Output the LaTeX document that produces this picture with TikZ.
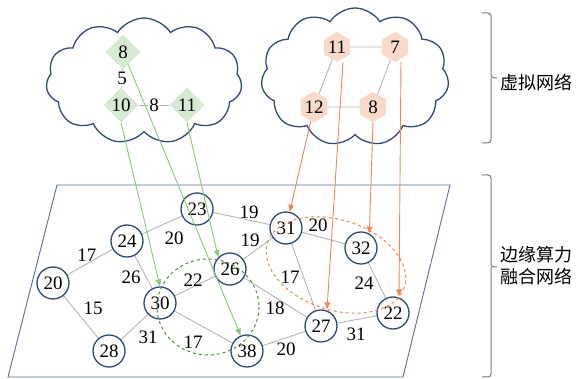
\documentclass[tikz,border=0pt]{standalone}
\usepackage{fontspec}
\setmainfont{Liberation Serif}
\newfontfamily\cjk{Noto Sans CJK SC}
\usetikzlibrary{shapes.geometric,shapes.symbols,arrows.meta}
\definecolor{navy}{HTML}{2F4A78}
\definecolor{edgegray}{HTML}{B4B4B4}
\definecolor{leafgreen}{HTML}{D6E9D1}
\definecolor{peach}{HTML}{F9DACA}
\definecolor{arrgreen}{HTML}{8DC67A}
\definecolor{dashgreen}{HTML}{4E8C3E}
\definecolor{arrorange}{HTML}{F2874C}
\definecolor{bracegray}{HTML}{7A7A7A}
\begin{document}
\begin{tikzpicture}[x=1pt,y=-1pt]
\tikzstyle{every node}+=[inner sep=0pt,font=\fontsize{19}{22}\selectfont]
\tikzstyle{pnode}=[circle,draw=navy,line width=1.3pt,fill=white,minimum size=32pt]
\tikzstyle{vgreen}=[diamond,fill=leafgreen,minimum width=35pt,minimum height=35pt]
\tikzstyle{vorange}=[regular polygon,regular polygon sides=6,shape border rotate=30,fill=peach,minimum size=30pt]
\tikzstyle{link}=[edgegray,line width=0.9pt]
\tikzstyle{garr}=[arrgreen,line width=0.9pt,-{Triangle[length=7pt,width=5.5pt]}]
\tikzstyle{oarr}=[arrorange,line width=0.9pt,-{Triangle[length=7pt,width=5.5pt]}]
\tikzstyle{bracket}=[bracegray,line width=1pt,rounded corners=3pt]
\useasboundingbox (0,0) rectangle (582,379);

% clouds
\node [cloud,draw=navy,line width=1.3pt,cloud puffs=11,cloud puff arc=115,aspect=1.55,minimum width=196pt,minimum height=126pt] (skyl) at (144,81) {};
\node [cloud,draw=navy,line width=1.3pt,cloud puffs=11,cloud puff arc=115,aspect=1.35,minimum width=188pt,minimum height=138pt] (skyr) at (355,77) {};

% physical plane
\draw [navy!80,line width=0.9pt] (57,185) -- (450,185) -- (403,377) -- (8,377) -- cycle;

% virtual network 1
\node [vgreen] (d8) at (123,52) {8};
\node [vgreen] (d10) at (121,105) {10};
\node [vgreen] (d11) at (187,105) {11};
\draw [link] (d8) -- (d10) node [midway,fill=white,text=black,inner sep=1pt] (w5) {5};
\draw [link] (d10) -- (d11) node [midway,fill=white,text=black,inner sep=1pt] (w8) {8};

% virtual network 2
\node [vorange] (h11) at (337,47) {11};
\node [vorange] (h7) at (395,47) {7};
\node [vorange] (h12) at (314,107) {12};
\node [vorange] (h8) at (373,107) {8};
\draw [link] (h11) -- (h7);
\draw [link] (h11) -- (h12);
\draw [link] (h7) -- (h8);
\draw [link] (h12) -- (h8);

% physical links
\coordinate (p23) at (197,209);
\coordinate (p24) at (127,241);
\coordinate (p20) at (53,283);
\coordinate (p30) at (160,303);
\coordinate (p26) at (230,269);
\coordinate (p28) at (109,351);
\coordinate (p38) at (247,351);
\coordinate (p31) at (286,228);
\coordinate (p32) at (361,248);
\coordinate (p27) at (321,326);
\coordinate (p22) at (393,313);
\draw [link] (p20) -- (p24);
\draw [link] (p20) -- (p28);
\draw [link] (p24) -- (p23);
\draw [link] (p24) -- (p30);
\draw [link] (p23) -- (p31);
\draw [link] (p26) -- (p31);
\draw [link] (p30) -- (p26);
\draw [link] (p30) -- (p28);
\draw [link] (p30) -- (p38);
\draw [link] (p26) -- (p27);
\draw [link] (p31) -- (p32);
\draw [link] (p31) -- (p27);
\draw [link] (p32) -- (p22);
\draw [link] (p27) -- (p22);
\draw [link] (p38) -- (p27);

% physical nodes
\node [pnode] (c23) at (p23) {23};
\node [pnode] (c24) at (p24) {24};
\node [pnode] (c20) at (p20) {20};
\node [pnode] (c30) at (p30) {30};
\node [pnode] (c26) at (p26) {26};
\node [pnode] (c28) at (p28) {28};
\node [pnode] (c38) at (p38) {38};
\node [pnode] (c31) at (p31) {31};
\node [pnode] (c32) at (p32) {32};
\node [pnode] (c27) at (p27) {27};
\node [pnode] (c22) at (p22) {22};

% link weights
\node (w2024) at (87,255) {17};
\node (w2028) at (93,308) {15};
\node (w2423) at (174,238) {20};
\node (w2430) at (131,277) {26};
\node (w2331) at (249,212) {19};
\node (w2631) at (250,240) {19};
\node (w3026) at (193,280) {22};
\node (w3028) at (148,337) {31};
\node (w3038) at (193,342) {17};
\node (w2627) at (275,308) {18};
\node (w3132) at (318,225) {20};
\node (w3127) at (290,277) {17};
\node (w3222) at (364,283) {24};
\node (w2722) at (356,334) {31};
\node (w3827) at (286,349) {20};

% mapped regions
\draw [dashgreen,line width=1pt,dashed] (208,307) ellipse [x radius=51,y radius=48];
\draw [arrorange,line width=1pt,dashed,shift={(336,265)},rotate=-18] (0,0) ellipse [x radius=72,y radius=45];

% mappings
\draw [garr] (d8) -- (c38);
\draw [garr] (d10.south) -- (c30.north);
\draw [garr] (d11.south) -- (c26.135);
\draw [oarr] (h12) -- (c31);
\draw [oarr] ([xshift=6pt]h11.south) -- ([xshift=6pt]c27.north);
\draw [oarr] (h8.south) -- (c32.60);
\draw [oarr] ([xshift=6pt]h7.south) -- ([xshift=6pt]c22.north);

% layer brackets
\draw [bracket] (482,13) -| (491,78) -- (497,78);
\draw [bracket] (482,143) -| (491,78);
\draw [bracket] (482,175) -| (491,267) -- (497,267);
\draw [bracket] (482,377) -| (491,267);
\node [anchor=west,font=\cjk\fontsize{18}{22}\selectfont] (lvn) at (500,83) {虚拟网络};
\node [anchor=west,align=left,font=\cjk\fontsize{18}{22}\selectfont] (lpn) at (500,266) {边缘算力\\融合网络};
\end{tikzpicture}
\end{document}
